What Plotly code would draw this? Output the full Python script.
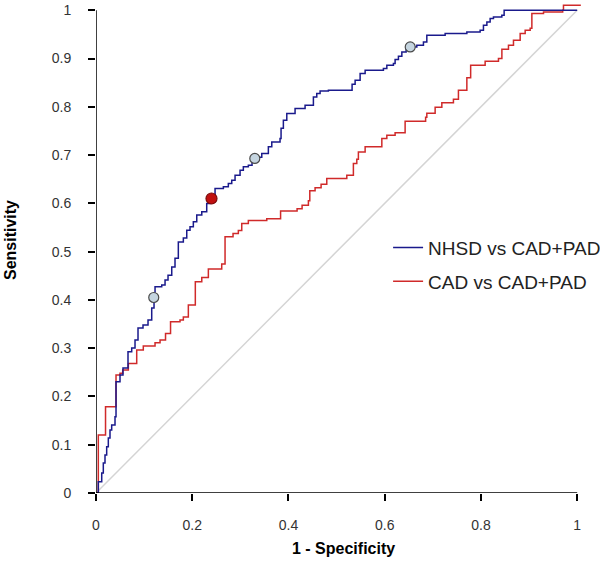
import plotly.graph_objects as go

# NHSD vs CAD+PAD ROC curve (1 - specificity, sensitivity)
nhsd_fpr = [0.0, 0.0048, 0.0119, 0.0152, 0.0187, 0.0222, 0.0256, 0.0291, 0.0326, 0.0395,
            0.0416, 0.0499, 0.0561, 0.0665, 0.0742, 0.0811, 0.0873, 0.0977, 0.1081, 0.1158,
            0.1206, 0.1227, 0.1366, 0.1435, 0.1497, 0.1574, 0.1642, 0.1711, 0.1815, 0.1886,
            0.1954, 0.2023, 0.2094, 0.2198, 0.2301, 0.2370, 0.2474, 0.2647, 0.2750, 0.2821,
            0.2890, 0.2994, 0.3062, 0.3166, 0.3243, 0.3306, 0.3445, 0.3582, 0.3653, 0.3825,
            0.3846, 0.3894, 0.3965, 0.4137, 0.4345, 0.4518, 0.4588, 0.4657, 0.4830, 0.5322,
            0.5385, 0.5489, 0.5593, 0.5973, 0.6044, 0.6181, 0.6216, 0.6285, 0.6356, 0.6445,
            0.6528, 0.6667, 0.6805, 0.6875, 0.7256, 0.7707, 0.7983, 0.8052, 0.8123, 0.8191,
            0.8260, 0.8434, 0.8482, 1.0]
nhsd_tpr = [0.0, 0.0234, 0.0414, 0.0621, 0.0787, 0.0959, 0.1139, 0.1304, 0.1408, 0.1580,
            0.2304, 0.2443, 0.2588, 0.2925, 0.3002, 0.3168, 0.3416, 0.3478, 0.3582, 0.3830,
            0.4058, 0.4271, 0.4306, 0.4410, 0.4513, 0.4679, 0.4865, 0.5197, 0.5280, 0.5445,
            0.5513, 0.5617, 0.5756, 0.5824, 0.5998, 0.6066, 0.6308, 0.6342, 0.6412, 0.6480,
            0.6584, 0.6687, 0.6756, 0.6791, 0.6894, 0.6957, 0.7033, 0.7170, 0.7273, 0.7344,
            0.7557, 0.7723, 0.7861, 0.7965, 0.8033, 0.8205, 0.8275, 0.8329, 0.8344, 0.8468,
            0.8551, 0.8689, 0.8758, 0.8793, 0.8861, 0.8896, 0.8979, 0.9048, 0.9137, 0.9193,
            0.9240, 0.9275, 0.9344, 0.9482, 0.9518, 0.9551, 0.9586, 0.9689, 0.9758, 0.9828,
            0.9861, 0.9896, 1.0, 1.0]

# CAD vs CAD+PAD ROC curve
cad_fpr = [0.0, 0.0048, 0.0198, 0.0416, 0.0499, 0.0555, 0.0672, 0.0846, 0.0983, 0.1227,
           0.1331, 0.1445, 0.1549, 0.1746, 0.1815, 0.1919, 0.2064, 0.2198, 0.2335, 0.2613,
           0.2682, 0.2848, 0.2958, 0.3029, 0.3166, 0.3549, 0.3836, 0.4179, 0.4283, 0.4414,
           0.4443, 0.4553, 0.4678, 0.4796, 0.5212, 0.5349, 0.5420, 0.5453, 0.5593, 0.5940,
           0.6044, 0.6216, 0.6424, 0.6850, 0.6875, 0.7048, 0.7187, 0.7428, 0.7532, 0.7707,
           0.7786, 0.8087, 0.8364, 0.8435, 0.8572, 0.8676, 0.8815, 0.8919, 0.9023, 0.9058,
           0.9300, 0.9699, 0.9715, 1.006]
cad_tpr = [0.0, 0.1201, 0.1787, 0.2443, 0.2478, 0.2547, 0.2685, 0.2961, 0.3043, 0.3112,
           0.3168, 0.3306, 0.3547, 0.3582, 0.3644, 0.3892, 0.4375, 0.4462, 0.4638, 0.4741,
           0.5306, 0.5373, 0.5435, 0.5584, 0.5646, 0.5683, 0.5839, 0.5890, 0.5963, 0.6056,
           0.6263, 0.6325, 0.6398, 0.6516, 0.6584, 0.6826, 0.6915, 0.7066, 0.7170, 0.7344,
           0.7412, 0.7464, 0.7702, 0.7785, 0.7867, 0.7992, 0.8085, 0.8157, 0.8344, 0.8602,
           0.8861, 0.8944, 0.9000, 0.9193, 0.9275, 0.9379, 0.9518, 0.9586, 0.9627, 0.9931,
           0.9965, 1.0, 1.0104, 1.0118]

# highlighted cut-off points
cut_fpr = [0.120, 0.330, 0.653]
cut_tpr = [0.405, 0.693, 0.924]
best_fpr = [0.240]
best_tpr = [0.610]

ref_x = [0, 1]
ref_y = [0, 1]

x_tickvals = [0, 0.2, 0.4, 0.6, 0.8, 1]
x_ticktext = ["0", "0.2", "0.4", "0.6", "0.8", "1"]
y_tickvals = [0, 0.1, 0.2, 0.3, 0.4, 0.5, 0.6, 0.7, 0.8, 0.9, 1]
y_ticktext = ["0", "0.1", "0.2", "0.3", "0.4", "0.5", "0.6", "0.7", "0.8", "0.9", "1"]

BLUE = "#1a1a8c"
RED = "#d02a2a"
FONT = "Liberation Sans, Arial, sans-serif"

fig = go.Figure()
fig.add_trace(go.Scatter(x=ref_x, y=ref_y, mode="lines", showlegend=False,
                         line=dict(color="#d4d4d4", width=1.5), hoverinfo="skip"))
fig.add_trace(go.Scatter(x=cad_fpr, y=cad_tpr, mode="lines", name="CAD vs CAD+PAD",
                         line=dict(color=RED, width=1.5, shape="hv"),
                         legendgroup="b", legendrank=2))
fig.add_trace(go.Scatter(x=nhsd_fpr, y=nhsd_tpr, mode="lines", name="NHSD vs CAD+PAD",
                         line=dict(color=BLUE, width=1.5, shape="hv"),
                         legendgroup="a", legendrank=1))
fig.add_trace(go.Scatter(x=cut_fpr, y=cut_tpr, mode="markers", showlegend=False,
                         cliponaxis=False,
                         marker=dict(size=10, color="#c5d5e0", line=dict(color="#4a4a4a", width=1.2))))
fig.add_trace(go.Scatter(x=best_fpr, y=best_tpr, mode="markers", showlegend=False,
                         cliponaxis=False,
                         marker=dict(size=11, color="#c01010", line=dict(color="#7a0a0a", width=1.2))))

# axis lines from 0 to 1
fig.add_shape(type="line", xref="x", yref="y", x0=0, y0=0, x1=1, y1=0,
              line=dict(color="black", width=1.5), layer="above")
fig.add_shape(type="line", xref="x", yref="y", x0=0, y0=0, x1=0, y1=1,
              line=dict(color="black", width=1.5), layer="above")

fig.add_annotation(text="<b>1 - Specificity</b>", x=0.515, xref="x", y=0, yref="paper",
                   yanchor="middle", yshift=-55, showarrow=False,
                   font=dict(family=FONT, size=16, color="black"))
fig.add_annotation(text="<b>Sensitivity</b>", x=0, xref="paper", xanchor="center",
                   xshift=-86, y=0.524, yref="y", yanchor="middle", textangle=-90,
                   showarrow=False, font=dict(family=FONT, size=16, color="black"))

fig.update_layout(
    width=600, height=562,
    margin=dict(l=96, r=18.2, t=2.8, b=69, pad=0, autoexpand=False),
    paper_bgcolor="white", plot_bgcolor="white",
    font=dict(family=FONT, size=13, color="#333333"),
    xaxis=dict(range=[0, 1.01], showgrid=False, zeroline=False, showline=False,
               tickmode="array", tickvals=x_tickvals, ticktext=x_ticktext,
               ticks="outside", ticklen=7, tickwidth=1.5, tickcolor="black",
               ticklabelstandoff=12, tickfont=dict(size=14, color="#333333")),
    yaxis=dict(range=[0, 1.015], showgrid=False, zeroline=False, showline=False,
               tickmode="array", tickvals=y_tickvals, ticktext=y_ticktext,
               ticks="outside", ticklen=7, tickwidth=1.5, tickcolor="black",
               ticklabelstandoff=14, tickfont=dict(size=14, color="#333333")),
    legend=dict(x=0.601, y=0.466, xanchor="left", yanchor="middle",
                traceorder="grouped", tracegroupgap=6, bgcolor="rgba(0,0,0,0)",
                font=dict(family=FONT, size=19, color="#222222")),
    showlegend=True,
)

fig.write_html("out.html", config={"displayModeBar": False},
               post_script="document.body.style.margin='0';")
